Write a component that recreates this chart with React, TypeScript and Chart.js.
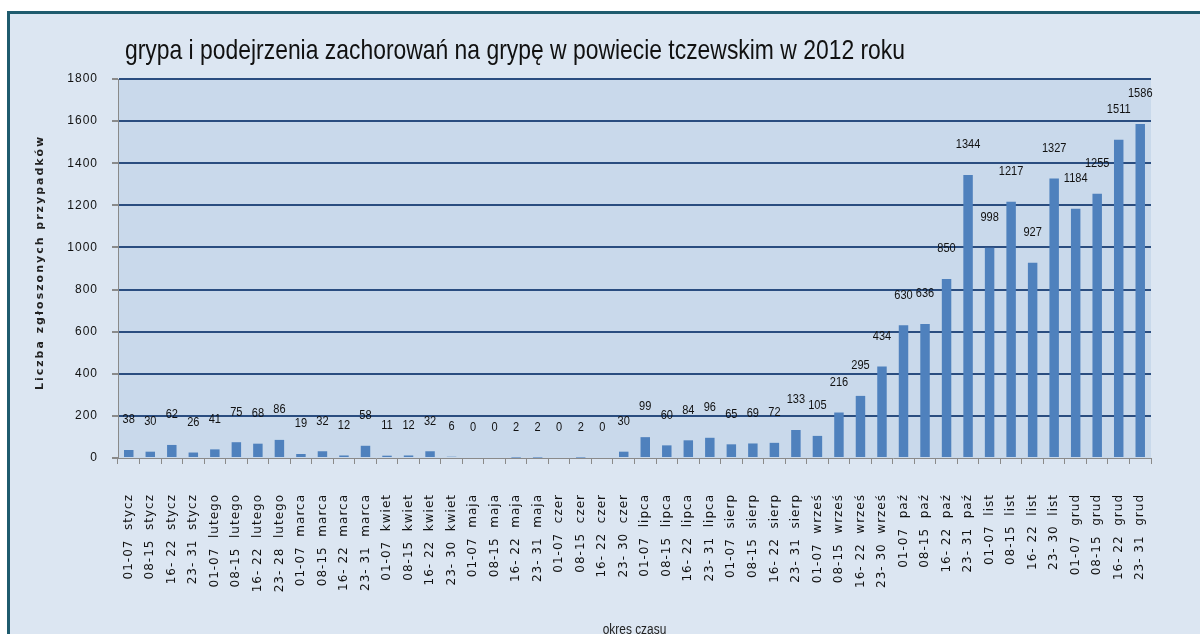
import React, { useEffect, useRef } from 'react';
import { Chart, registerables } from 'chart.js';

Chart.register(...registerables);

const TITLE = 'grypa i podejrzenia zachorowań na grypę w powiecie tczewskim w 2012 roku';
const Y_TITLE = 'Liczba zgłoszonych przypadków';
const X_TITLE = 'okres czasu';

const categories = [
  '01-07  stycz', '08-15  stycz', '16- 22  stycz', '23- 31  stycz',
  '01-07  lutego', '08-15  lutego', '16- 22  lutego', '23- 28  lutego',
  '01-07  marca', '08-15  marca', '16- 22  marca', '23- 31  marca',
  '01-07  kwiet', '08-15  kwiet', '16- 22  kwiet', '23- 30  kwiet',
  '01-07  maja', '08-15  maja', '16- 22  maja', '23- 31  maja',
  '01-07  czer', '08-15  czer', '16- 22  czer', '23- 30  czer',
  '01-07  lipca', '08-15  lipca', '16- 22  lipca', '23- 31  lipca',
  '01-07  sierp', '08-15  sierp', '16- 22  sierp', '23- 31  sierp',
  '01-07  wrześ', '08-15  wrześ', '16- 22  wrześ', '23- 30  wrześ',
  '01-07  paź', '08-15  paź', '16- 22  paź', '23- 31  paź',
  '01-07  list', '08-15  list', '16- 22  list', '23- 30  list',
  '01-07  grud', '08-15  grud', '16- 22  grud', '23- 31  grud',
];

const cases = [
  38, 30, 62, 26,
  41, 75, 68, 86,
  19, 32, 12, 58,
  11, 12, 32, 6,
  0, 0, 2, 2,
  0, 2, 0, 30,
  99, 60, 84, 96,
  65, 69, 72, 133,
  105, 216, 295, 434,
  630, 636, 850, 1344,
  998, 1217, 927, 1327,
  1184, 1255, 1511, 1586,
];

const Y_MIN = 0;
const Y_MAX = 1800;
const Y_STEP = 200;

const OUTER_BG = '#dce6f2';
const PLOT_BG = '#c9d9eb';
const GRID = '#2a4d80';
const AXIS = '#8a8a8a';
const BAR = '#4f81bd';

export default function App() {
  const canvasRef = useRef<HTMLCanvasElement | null>(null);

  useEffect(() => {
    const canvas = canvasRef.current;
    if (!canvas) return;

    const plotBg = {
      id: 'plotBg',
      beforeDraw(chart: any) {
        const { ctx, chartArea } = chart;
        ctx.save();
        ctx.fillStyle = PLOT_BG;
        ctx.fillRect(chartArea.left, chartArea.top, chartArea.right - chartArea.left, chartArea.bottom - chartArea.top);
        ctx.restore();
        (ctx as any).letterSpacing = '1px';
      },
    };

    const dataLabels = {
      id: 'dataLabels',
      afterDatasetsDraw(chart: any) {
        const { ctx } = chart;
        const meta = chart.getDatasetMeta(0);
        const data = chart.data.datasets[0].data as number[];
        ctx.save();
        (ctx as any).letterSpacing = '0px';
        ctx.fillStyle = '#111';
        ctx.font = '12px "Liberation Sans", Arial, sans-serif';
        ctx.textAlign = 'center';
        ctx.textBaseline = 'middle';
        meta.data.forEach((bar: any, i: number) => {
          ctx.save();
          ctx.translate(bar.x, bar.y - 30);
          ctx.scale(0.92, 1);
          ctx.fillText(String(data[i]), 0, 0);
          ctx.restore();
        });
        ctx.restore();
      },
    };

    const texts = {
      id: 'texts',
      afterDraw(chart: any) {
        const { ctx, chartArea } = chart;
        ctx.save();
        (ctx as any).letterSpacing = '0px';
        ctx.fillStyle = '#111';
        ctx.font = '28px "Liberation Sans", Arial, sans-serif';
        ctx.textAlign = 'left';
        ctx.textBaseline = 'alphabetic';
        const w = ctx.measureText(TITLE).width;
        const sx = 780 / w;
        ctx.save();
        ctx.translate(chartArea.left + 7, 59);
        ctx.scale(sx, 1);
        ctx.fillText(TITLE, 0, 0);
        ctx.restore();

        ctx.save();
        ctx.fillStyle = '#222';
        ctx.font = 'bold 11px "DejaVu Sans", sans-serif';
        (ctx as any).letterSpacing = '2px';
        ctx.translate(40, (chartArea.top + chartArea.bottom) / 2 - 6);
        ctx.rotate(-Math.PI / 2);
        ctx.textAlign = 'center';
        ctx.textBaseline = 'middle';
        ctx.fillText(Y_TITLE, 0, 0);
        ctx.restore();

        ctx.save();
        ctx.fillStyle = '#222';
        ctx.font = '14px "Liberation Sans", Arial, sans-serif';
        ctx.translate((chartArea.left + chartArea.right) / 2, 630);
        ctx.scale(0.85, 1);
        ctx.textAlign = 'center';
        ctx.textBaseline = 'middle';
        ctx.fillText(X_TITLE, 0, 0);
        ctx.restore();
        ctx.restore();
      },
    };

    const chart = new Chart(canvas, {
      type: 'bar',
      data: {
        labels: categories,
        datasets: [
          {
            label: 'przypadki',
            data: cases,
            backgroundColor: BAR,
            borderWidth: 0,
            barPercentage: 0.44,
            categoryPercentage: 1,
          },
        ],
      },
      options: {
        animation: false,
        responsive: false,
        maintainAspectRatio: false,
        layout: { padding: { left: 0, top: 79, right: 49, bottom: 0 } },
        plugins: {
          legend: { display: false },
          title: { display: false },
          tooltip: { enabled: false },
        },
        scales: {
          x: {
            afterFit(scale: any) {
              scale.height = 176;
            },
            grid: {
              display: true,
              drawOnChartArea: false,
              drawTicks: true,
              tickLength: 6,
              tickColor: AXIS,
              color: AXIS,
            },
            border: { display: true, color: AXIS, width: 1 },
            ticks: {
              autoSkip: false,
              maxRotation: 90,
              minRotation: 90,
              padding: 30,
              color: '#111',
              font: { family: '"DejaVu Sans", sans-serif', size: 12 },
            },
          },
          y: {
            min: Y_MIN,
            max: Y_MAX,
            afterFit(scale: any) {
              scale.width = 118;
            },
            grid: {
              color: (c: any) => (c.tick && c.tick.value === 0 ? 'rgba(0,0,0,0)' : GRID),
              lineWidth: 2,
              drawTicks: true,
              tickLength: 6,
              tickColor: AXIS,
            },
            border: { display: true, color: AXIS, width: 1 },
            ticks: {
              stepSize: Y_STEP,
              padding: 14,
              color: '#111',
              font: { family: '"Liberation Sans", Arial, sans-serif', size: 12 },
              callback: (v: any) => String(v),
            },
          },
        },
      },
      plugins: [plotBg, dataLabels, texts],
    });

    return () => {
      chart.destroy();
    };
  }, []);

  return (
    <div style={{ position: 'fixed', left: 0, top: 0, width: 1200, height: 634, background: '#ffffff', overflow: 'hidden' }}>
      <div
        style={{
          position: 'absolute',
          left: 7,
          top: 11,
          right: 0,
          bottom: 0,
          background: OUTER_BG,
          borderTop: '3px solid #1f5b6e',
          borderLeft: '3px solid #1f5b6e',
        }}
      />
      <canvas ref={canvasRef} width={1200} height={634} style={{ position: 'absolute', left: 0, top: 0 }} />
    </div>
  );
}
